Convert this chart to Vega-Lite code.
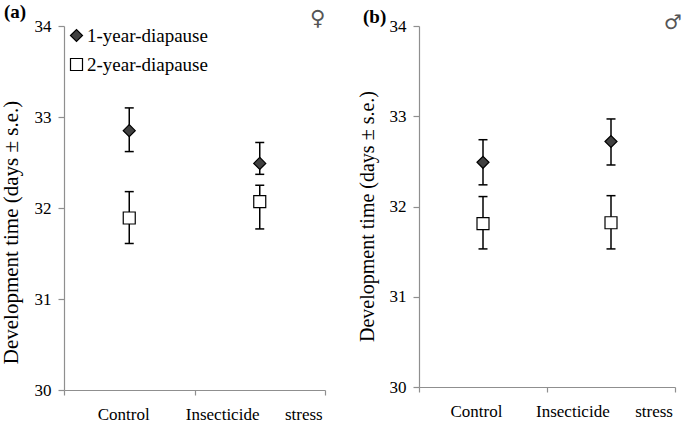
{
  "$schema": "https://vega.github.io/schema/vega-lite/v6.json",
  "padding": {"left": 0, "top": 3, "right": 0, "bottom": 0},
  "background": "white",
  "config": {
    "font": "Liberation Serif",
    "view": {"stroke": null},
    "axis": {
      "domainColor": "#8f8f8f", "tickColor": "#8f8f8f", "domainWidth": 1.2, "tickWidth": 1.2,
      "labelColor": "black", "titleColor": "black",
      "labelFont": "Liberation Serif", "titleFont": "Liberation Serif",
      "grid": false, "titleFontWeight": "normal"
    },
    "title": {"font": "Liberation Serif", "fontWeight": "bold", "fontSize": 19, "color": "black"}
  },
  "datasets": {
    "a": [
      {"treatment": "Control", "group": "1-year-diapause", "mean": 32.85, "lo": 32.62, "hi": 33.10},
      {"treatment": "Control", "group": "2-year-diapause", "mean": 31.89, "lo": 31.61, "hi": 32.18},
      {"treatment": "Insecticide stress", "group": "1-year-diapause", "mean": 32.49, "lo": 32.37, "hi": 32.72},
      {"treatment": "Insecticide stress", "group": "2-year-diapause", "mean": 32.07, "lo": 31.77, "hi": 32.25}
    ],
    "b": [
      {"treatment": "Control", "group": "1-year-diapause", "mean": 32.49, "lo": 32.24, "hi": 32.74},
      {"treatment": "Control", "group": "2-year-diapause", "mean": 31.81, "lo": 31.53, "hi": 32.11},
      {"treatment": "Insecticide stress", "group": "1-year-diapause", "mean": 32.72, "lo": 32.46, "hi": 32.97},
      {"treatment": "Insecticide stress", "group": "2-year-diapause", "mean": 31.82, "lo": 31.53, "hi": 32.12}
    ]
  },
  "spacing": 94,
  "bounds": "flush",
  "resolve": {"scale": {"fill": "independent", "shape": "independent", "stroke": "independent"}},
  "hconcat": [
    {
      "width": 261, "height": 364,
      "title": {"text": "(a)", "anchor": "start", "frame": "group", "dx": -60, "offset": -14},
      "data": {"name": "a"},
      "encoding": {
        "x": {
          "field": "treatment", "type": "nominal",
          "scale": {"domain": ["Control", "Insecticide stress"], "paddingInner": 0, "paddingOuter": 0},
          "axis": {"title": null, "tickBand": "extent", "labelFontSize": 17, "tickSize": 5, "labelPadding": 11, "labelOffset": -6, "labelAngle": 0,
                   "labelExpr": "datum.label == 'Insecticide stress' ? 'Insecticide\u00a0\u00a0\u00a0\u00a0\u00a0\u00a0stress' : datum.label"}
        }
      },
      "layer": [
        {
          "mark": {"type": "rule", "strokeWidth": 1.5, "color": "black"},
          "encoding": {
            "y": {"field": "lo", "type": "quantitative", "scale": {"domain": [30, 34], "nice": false, "zero": false},
                  "axis": {"values": [30, 31, 32, 33, 34], "format": "d", "title": "Development time (days ± s.e.)", "titleFontSize": 21, "labelFontSize": 17, "tickSize": 6, "labelPadding": 7, "titlePadding": 13, "titleY": 206}},
            "y2": {"field": "hi"}
          }
        },
        {
          "mark": {"type": "tick", "size": 9, "thickness": 1.5, "color": "black", "opacity": 1},
          "encoding": {"y": {"field": "lo", "type": "quantitative"}}
        },
        {
          "mark": {"type": "tick", "size": 9, "thickness": 1.5, "color": "black", "opacity": 1},
          "encoding": {"y": {"field": "hi", "type": "quantitative"}}
        },
        {
          "mark": {"type": "point", "filled": true, "size": 144, "strokeWidth": 1.2, "opacity": 1},
          "encoding": {
            "y": {"field": "mean", "type": "quantitative"},
            "shape": {"field": "group", "type": "nominal", "scale": {"domain": ["1-year-diapause", "2-year-diapause"], "range": ["diamond", "square"]},
                      "legend": {"orient": "none", "legendX": 3, "legendY": 0, "title": null, "labelFontSize": 19, "labelFont": "Liberation Serif", "labelColor": "black", "rowPadding": 9, "symbolSize": 144, "symbolStrokeWidth": 1.2, "labelOffset": 1, "padding": 0}},
            "fill": {"field": "group", "type": "nominal", "scale": {"domain": ["1-year-diapause", "2-year-diapause"], "range": ["#404040", "#ffffff"]},
                     "legend": {"orient": "none", "legendX": 3, "legendY": 0, "title": null, "labelFontSize": 19, "labelFont": "Liberation Serif", "labelColor": "black", "rowPadding": 9, "symbolSize": 144, "symbolStrokeWidth": 1.2, "labelOffset": 1, "padding": 0}},
            "stroke": {"field": "group", "type": "nominal", "scale": {"domain": ["1-year-diapause", "2-year-diapause"], "range": ["#000000", "#000000"]},
                     "legend": {"orient": "none", "legendX": 3, "legendY": 0, "title": null, "labelFontSize": 19, "labelFont": "Liberation Serif", "labelColor": "black", "rowPadding": 9, "symbolSize": 144, "symbolStrokeWidth": 1.2, "labelOffset": 1, "padding": 0}}
          }
        },
        {
          "data": {"values": [{"s": "♀"}]},
          "mark": {"type": "text", "font": "DejaVu Sans", "fontSize": 21, "color": "#555555", "dx": 58, "dy": -7, "baseline": "middle"},
          "encoding": {"x": {"datum": "Insecticide stress"}, "y": {"datum": 34}, "text": {"field": "s"}}
        }
      ]
    },
    {
      "width": 256, "height": 361,
      "title": {"text": "(b)", "anchor": "start", "frame": "group", "dx": -56, "offset": -14},
      "data": {"name": "b"},
      "encoding": {
        "x": {
          "field": "treatment", "type": "nominal",
          "scale": {"domain": ["Control", "Insecticide stress"], "paddingInner": 0, "paddingOuter": 0},
          "axis": {"title": null, "tickBand": "extent", "labelFontSize": 17, "tickSize": 5, "labelPadding": 11, "labelOffset": -7, "labelAngle": 0,
                   "labelExpr": "datum.label == 'Insecticide stress' ? 'Insecticide\u00a0\u00a0\u00a0\u00a0\u00a0\u00a0stress' : datum.label"}
        }
      },
      "layer": [
        {
          "mark": {"type": "rule", "strokeWidth": 1.5, "color": "black"},
          "encoding": {
            "y": {"field": "lo", "type": "quantitative", "scale": {"domain": [30, 34], "nice": false, "zero": false},
                  "axis": {"values": [30, 31, 32, 33, 34], "format": "d", "title": "Development time (days ± s.e.)", "titleFontSize": 20, "labelFontSize": 17, "tickSize": 6, "labelPadding": 7, "titlePadding": 12, "titleY": 190}},
            "y2": {"field": "hi"}
          }
        },
        {
          "mark": {"type": "tick", "size": 9, "thickness": 1.5, "color": "black", "opacity": 1},
          "encoding": {"y": {"field": "lo", "type": "quantitative"}}
        },
        {
          "mark": {"type": "tick", "size": 9, "thickness": 1.5, "color": "black", "opacity": 1},
          "encoding": {"y": {"field": "hi", "type": "quantitative"}}
        },
        {
          "mark": {"type": "point", "filled": true, "size": 144, "strokeWidth": 1.2, "opacity": 1},
          "encoding": {
            "y": {"field": "mean", "type": "quantitative"},
            "shape": {"field": "group", "type": "nominal", "scale": {"domain": ["1-year-diapause", "2-year-diapause"], "range": ["diamond", "square"]}, "legend": null},
            "fill": {"field": "group", "type": "nominal", "scale": {"domain": ["1-year-diapause", "2-year-diapause"], "range": ["#404040", "#ffffff"]}, "legend": null},
            "stroke": {"field": "group", "type": "nominal", "scale": {"domain": ["1-year-diapause", "2-year-diapause"], "range": ["#000000", "#000000"]}, "legend": null}
          }
        },
        {
          "data": {"values": [{"s": "♂"}]},
          "mark": {"type": "text", "font": "DejaVu Sans", "fontSize": 20, "color": "#555555", "dx": 62, "dy": -3, "baseline": "middle"},
          "encoding": {"x": {"datum": "Insecticide stress"}, "y": {"datum": 34}, "text": {"field": "s"}}
        }
      ]
    }
  ]
}
